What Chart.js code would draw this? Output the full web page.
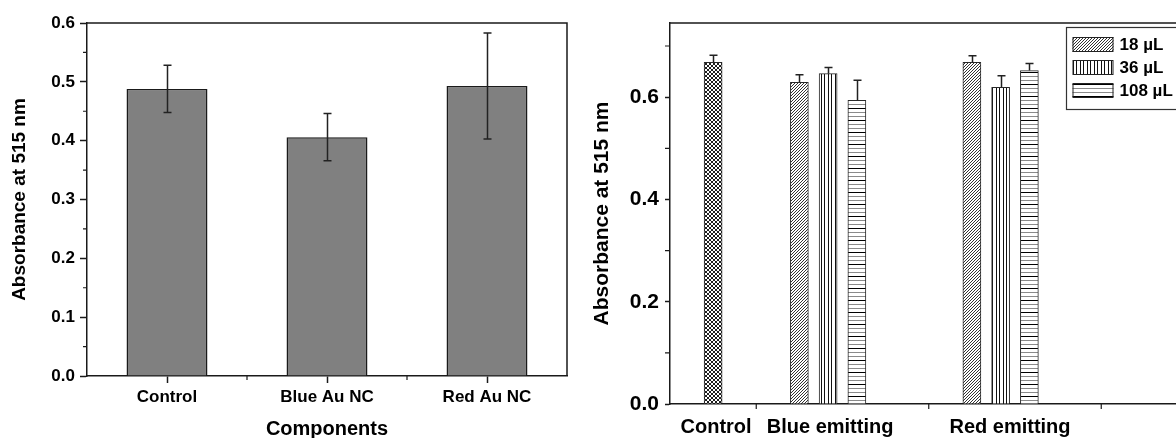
<!DOCTYPE html>
<html><head><meta charset="utf-8">
<script src="https://cdn.jsdelivr.net/npm/chart.js@4/dist/chart.umd.min.js"></script>
<style>
html,body{margin:0;padding:0;background:#fff;overflow:hidden;width:1176px;height:438px;}
#c1{position:absolute;left:0;top:0;}
#c2{position:absolute;left:590px;top:0;}
</style></head><body>
<canvas id="c1" width="590" height="438"></canvas>
<canvas id="c2" width="620" height="438"></canvas>
<script>
// ---------- data: left panel ----------
const leftCategories = ['Control', 'Blue Au NC', 'Red Au NC'];
const leftValues = [0.488, 0.406, 0.493];
const leftErrors = [0.040, 0.040, 0.090];
const leftYTicks = [0.0, 0.1, 0.2, 0.3, 0.4, 0.5, 0.6];
const leftYTickLabels = ['0.0', '0.1', '0.2', '0.3', '0.4', '0.5', '0.6'];
const leftYMinor = [0.05, 0.15, 0.25, 0.35, 0.45, 0.55];

// ---------- data: right panel ----------
const rightGroups = ['Control', 'Blue emitting', 'Red emitting'];
const volumeLabels = ['18 µL', '36 µL', '108 µL'];
const controlValues = [0.668];
const controlErrors = [0.014];
const blueValues = [0.629, 0.646, 0.594];
const blueErrors = [0.015, 0.012, 0.039];
const redValues = [0.668, 0.619, 0.652];
const redErrors = [0.013, 0.023, 0.014];
const rightYTicks = [0.0, 0.2, 0.4, 0.6];
const rightYTickLabels = ['0.0', '0.2', '0.4', '0.6'];
const rightYMinor = [0.1, 0.3, 0.5, 0.7];

// ---------- layout constants (axis units of right panel) ----------
const groupCenters = [0.25, 0.9167, 1.9167];
const barStep = 1 / 6;
const labelCenters = [0.267, 0.928, 1.971];
const rightXMinor = [0.5, 1.5, 2.5];

Chart.defaults.font.family = "'Liberation Sans', Arial, sans-serif";
Chart.defaults.font.weight = 'bold';
Chart.defaults.color = '#000';

function makePattern(kind) {
  const t = document.createElement('canvas');
  const c = t.getContext('2d');
  if (kind === 'cross') {
    t.width = t.height = 4;
    c.fillStyle = '#fff'; c.fillRect(0, 0, 4, 4);
    c.fillStyle = '#1e1e1e';
    for (let i = 0; i < 4; i++) { c.fillRect(i, i, 1, 1); c.fillRect(3 - i, i, 1, 1); }
  } else if (kind === 'diag') {
    t.width = t.height = 3;
    c.fillStyle = '#fff'; c.fillRect(0, 0, 3, 3);
    c.fillStyle = '#333';
    for (let i = 0; i < 3; i++) c.fillRect(i, 2 - i, 1, 1);
  } else if (kind === 'vert') {
    t.width = 7; t.height = 4;
    c.fillStyle = '#fff'; c.fillRect(0, 0, 7, 4);
    c.fillStyle = '#111';
    c.fillRect(0, 0, 1, 4); c.fillRect(3, 0, 1, 4);
  } else {
    t.width = 4; t.height = 12;
    c.fillStyle = '#fff'; c.fillRect(0, 0, 4, 12);
    c.fillStyle = '#000'; c.fillRect(0, 0, 4, 1);
    c.fillStyle = '#8a8a8a'; c.fillRect(0, 4, 4, 1); c.fillRect(0, 8, 4, 1);
  }
  return document.createElement('canvas').getContext('2d').createPattern(t, 'repeat');
}
const patCross = makePattern('cross');
const volumePatterns = [makePattern('diag'), makePattern('vert'), makePattern('horz')];

// error bars drawn through the chart scales
const errorBarPlugin = {
  id: 'errorBars',
  afterDatasetsDraw(chart, args, opts) {
    const ctx = chart.ctx;
    const ys = chart.scales.y;
    ctx.save();
    ctx.strokeStyle = opts.color || '#222';
    ctx.lineWidth = opts.width || 1.5;
    chart.data.datasets.forEach((ds, di) => {
      if (!ds.errorBars) return;
      const meta = chart.getDatasetMeta(di);
      meta.data.forEach((el, i) => {
        const raw = ds.data[i];
        const v = typeof raw === 'object' ? raw.y : raw;
        const e = ds.errorBars[i];
        const yTop = ys.getPixelForValue(v + e);
        const yBot = opts.upOnly ? ys.getPixelForValue(v) : ys.getPixelForValue(v - e);
        const x = Math.round(el.x) + 0.5;
        ctx.beginPath();
        ctx.moveTo(x, yTop); ctx.lineTo(x, yBot);
        const hw = opts.cap / 2;
        ctx.moveTo(x - hw, yTop); ctx.lineTo(x + hw, yTop);
        if (!opts.upOnly) { ctx.moveTo(x - hw, yBot); ctx.lineTo(x + hw, yBot); }
        ctx.stroke();
      });
    });
    ctx.restore();
  }
};

// frame (top/right) and minor ticks
const framePlugin = {
  id: 'frame',
  afterDraw(chart, args, opts) {
    const ctx = chart.ctx, a = chart.chartArea;
    ctx.save();
    ctx.strokeStyle = '#1a1a1a';
    ctx.lineWidth = 1.5;
    ctx.beginPath();
    ctx.moveTo(a.left, a.top); ctx.lineTo(a.right, a.top); ctx.lineTo(a.right, a.bottom);
    ctx.stroke();
    ctx.lineWidth = 1.2;
    ctx.beginPath();
    (opts.yMinor || []).forEach(v => {
      const y = chart.scales.y.getPixelForValue(v);
      ctx.moveTo(a.left, y); ctx.lineTo(a.left - opts.minorLen, y);
    });
    (opts.xMinor || []).forEach(v => {
      const x = chart.scales.x.getPixelForValue(v);
      ctx.moveTo(x, a.bottom); ctx.lineTo(x, a.bottom + opts.minorLen);
    });
    if (opts.xBetween) {
      const xs = chart.scales.x;
      for (let i = 0; i < chart.data.labels.length - 1; i++) {
        const x = (xs.getPixelForValue(i) + xs.getPixelForValue(i + 1)) / 2;
        ctx.moveTo(x, a.bottom); ctx.lineTo(x, a.bottom + opts.minorLen);
      }
    }
    ctx.stroke();
    ctx.restore();
  }
};

// legend box inside the right panel
const boxLegendPlugin = {
  id: 'boxLegend',
  afterDraw(chart, args, opts) {
    const ctx = chart.ctx;
    ctx.save();
    ctx.strokeStyle = '#333';
    ctx.lineWidth = 1.2;
    ctx.fillStyle = '#fff';
    ctx.fillRect(opts.x, opts.y, opts.w, opts.h);
    ctx.strokeRect(opts.x, opts.y, opts.w, opts.h);
    const items = chart.data.datasets.filter(d => d.inLegend);
    items.forEach((d, i) => {
      const sy = opts.y + opts.first + i * opts.step;
      ctx.fillStyle = d.backgroundColor;
      ctx.fillRect(opts.x + 6, sy, 41, 15);
      ctx.strokeStyle = '#222';
      ctx.lineWidth = 1;
      ctx.strokeRect(opts.x + 6.5, sy + 0.5, 40, 14);
      ctx.fillStyle = '#000';
      ctx.font = "bold 17px 'Liberation Sans', Arial, sans-serif";
      ctx.textBaseline = 'middle';
      ctx.fillText(d.label, opts.x + 53, sy + 8);
    });
    ctx.restore();
  }
};

// ---------- left chart ----------
new Chart(document.getElementById('c1'), {
  type: 'bar',
  data: {
    labels: leftCategories,
    datasets: [{
      data: leftValues,
      errorBars: leftErrors,
      backgroundColor: '#808080',
      borderColor: '#1a1a1a',
      borderWidth: 1.5,
      barPercentage: 0.506,
      categoryPercentage: 1
    }]
  },
  options: {
    responsive: false, animation: false,
    layout: { padding: { top: 23, right: 23, left: 0, bottom: 0 } },
    plugins: {
      legend: { display: false }, tooltip: { enabled: false },
      errorBars: { cap: 8, width: 1.5, color: '#222', upOnly: false },
      frame: { yMinor: leftYMinor, xBetween: true, minorLen: 4 }
    },
    scales: {
      x: {
        grid: { display: true, drawOnChartArea: false, offset: false, tickLength: 7, tickColor: '#1a1a1a', tickWidth: 1.5 },
        border: { display: true, color: '#1a1a1a', width: 1.5 },
        ticks: { font: { size: 17, weight: 'bold' }, padding: 4, color: '#000' },
        title: { display: true, text: 'Components', font: { size: 20, weight: 'bold' }, color: '#000', padding: { top: 0, bottom: -3 } },
        afterFit: s => { s.height = 62; }
      },
      y: {
        min: 0, max: 0.6,
        afterBuildTicks: s => { s.ticks = leftYTicks.map(v => ({ value: v })); },
        grid: { display: true, drawOnChartArea: false, tickLength: 7, tickColor: '#1a1a1a', tickWidth: 1.5 },
        border: { display: true, color: '#1a1a1a', width: 1.5 },
        ticks: { font: { size: 17, weight: 'bold' }, padding: 5, color: '#000', callback: (v, i) => leftYTickLabels[i] },
        title: { display: true, text: 'Absorbance at 515 nm', font: { size: 19, weight: 'bold' }, color: '#000', padding: { top: 8, bottom: 0 } },
        afterFit: s => { s.width = 87; }
      }
    }
  },
  plugins: [errorBarPlugin, framePlugin]
});

// ---------- right chart ----------
const rightDatasets = [{
  label: rightGroups[0],
  data: controlValues.map(v => ({ x: groupCenters[0], y: v })),
  errorBars: controlErrors,
  backgroundColor: patCross,
  inLegend: false
}];
volumeLabels.forEach((lab, k) => {
  rightDatasets.push({
    label: lab,
    data: [
      { x: groupCenters[1] + (k - 1) * barStep, y: blueValues[k] },
      { x: groupCenters[2] + (k - 1) * barStep, y: redValues[k] }
    ],
    errorBars: [blueErrors[k], redErrors[k]],
    backgroundColor: volumePatterns[k],
    inLegend: true
  });
});
rightDatasets.forEach(d => {
  d.borderColor = '#2a2a2a';
  d.borderWidth = 1;
  d.barThickness = 18;
  d.grouped = false;
});

new Chart(document.getElementById('c2'), {
  type: 'bar',
  data: { datasets: rightDatasets },
  options: {
    responsive: false, animation: false,
    layout: { padding: { top: 23, right: 22.5, left: 0, bottom: 0 } },
    plugins: {
      legend: { display: false }, tooltip: { enabled: false },
      errorBars: { cap: 8, width: 1.5, color: '#222', upOnly: true },
      frame: { yMinor: rightYMinor, xMinor: rightXMinor, minorLen: 5 },
      boxLegend: { x: 476.5, y: 27.5, w: 115, h: 82, first: 9.5, step: 23 }
    },
    scales: {
      x: {
        type: 'linear', min: 0, max: 3, offset: false,
        afterBuildTicks: s => { s.ticks = labelCenters.map(v => ({ value: v })); },
        grid: { display: false },
        border: { display: true, color: '#1a1a1a', width: 1.5 },
        ticks: { font: { size: 20, weight: 'bold' }, padding: 3, color: '#000', maxRotation: 0, autoSkip: false, callback: (v, i) => rightGroups[i] },
        afterFit: s => { s.height = 34; }
      },
      y: {
        min: 0, max: 0.745,
        afterBuildTicks: s => { s.ticks = rightYTicks.map(v => ({ value: v })); },
        grid: { display: true, drawOnChartArea: false, tickLength: 5, tickColor: '#1a1a1a', tickWidth: 1.5 },
        border: { display: true, color: '#1a1a1a', width: 1.5 },
        ticks: { font: { size: 21, weight: 'bold' }, padding: 6, color: '#000', callback: (v, i) => rightYTickLabels[i] },
        title: { display: true, text: 'Absorbance at 515 nm', font: { size: 21, weight: 'bold' }, color: '#000', padding: { top: 0, bottom: 0 } },
        afterFit: s => { s.width = 80; }
      }
    }
  },
  plugins: [errorBarPlugin, framePlugin, boxLegendPlugin]
});
</script>
</body></html>
